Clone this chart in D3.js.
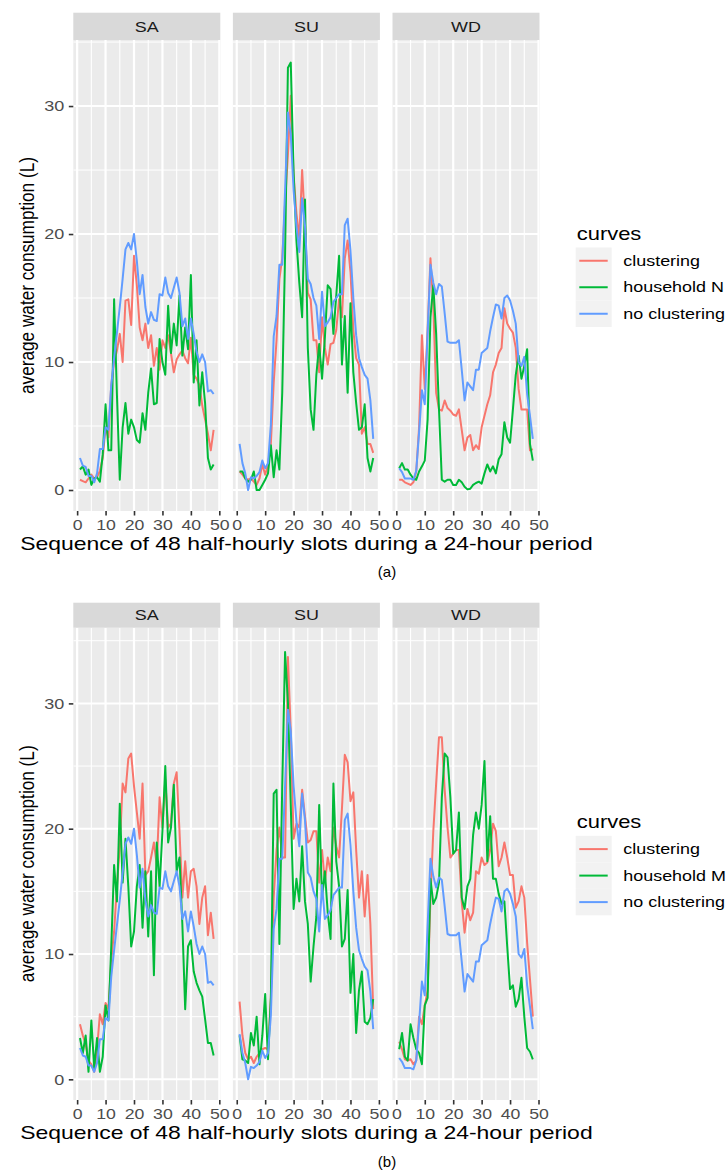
<!DOCTYPE html>
<html><head><meta charset="utf-8">
<script src="https://cdn.jsdelivr.net/npm/d3@7"></script>
<style>
body{margin:0;background:#fff}
svg{display:block}
text{font-family:"Liberation Sans",Arial,Helvetica,sans-serif}
</style>
</head><body>
<svg id="chart" width="727" height="1171"></svg>
<script>
// ---------------- data ----------------
const days = ["SA", "SU", "WD"];
const slots = d3.range(1, 49);
const curveKeys = ["clustering", "household", "no clustering"];
const householdLabels = ["household N", "household M"];
const figureLabels = ["(a)", "(b)"];
const xTicks = [0, 10, 20, 30, 40, 50];
const xMinor = [5, 15, 25, 35, 45];
const yTicks = [0, 10, 20, 30];
const yMinor = [5, 15, 25, 35];
const legendTitle = "curves";
const xTitle = "Sequence of 48 half-hourly slots during a 24-hour period";
const yTitle = "average water consumption (L)";

// no clustering (same curve in both figures)
const noClustering_SA = [2.5,1.9,1.8,1.1,1.1,0.6,1.3,3.2,3.2,4.9,4.7,8.2,10.3,12.3,14.3,16.5,18.8,19.3,18.8,20.0,17.9,15.3,16.8,14.3,13.0,13.9,13.3,13.2,15.3,15.2,16.6,15.4,15.0,15.8,16.6,15.4,12.8,13.4,11.8,13.4,12.2,10.8,10.0,10.6,10.0,7.7,7.8,7.5];
const noClustering_SU = [3.6,2.1,1.3,0.0,1.0,0.9,1.1,1.4,2.3,1.7,2.1,5.1,12.0,13.6,17.6,17.6,23.4,29.5,27.8,23.4,20.6,18.6,22.8,20.7,16.5,16.1,15.0,14.4,11.8,15.5,12.8,13.1,13.5,14.7,15.0,15.3,15.3,20.7,21.2,18.7,15.0,12.1,10.3,9.6,9.0,8.7,7.0,4.0];
const noClustering_WD = [1.7,1.4,0.9,0.9,0.9,0.8,1.5,4.5,7.8,6.7,12.3,17.6,16.2,15.3,16.1,15.9,13.8,11.6,11.5,11.5,11.5,11.7,9.4,7.0,8.4,8.1,7.8,9.4,9.4,10.7,10.9,11.1,12.4,13.5,14.5,14.4,13.4,15.0,15.2,14.8,14.0,13.0,10.0,9.7,10.4,7.5,5.8,4.0];

// figure (a)
const clusteringA_SA = [0.8,0.7,0.6,0.9,1.2,0.9,1.0,1.5,2.5,4.9,4.1,8.2,10.0,10.9,12.2,10.0,14.8,14.9,12.9,18.3,16.0,12.7,11.7,13.0,11.1,12.1,9.7,11.1,9.4,11.7,11.1,12.1,10.7,9.2,10.2,10.6,10.9,10.3,9.9,11.9,9.0,8.7,8.2,6.6,5.5,4.4,3.1,4.7];
const householdN_SA = [1.6,1.85,1.2,1.6,0.4,0.9,1.0,0.65,2.8,6.7,3.1,3.1,14.9,7.4,0.8,4.9,6.8,4.4,5.5,4.9,3.9,3.7,6.0,4.7,7.6,9.5,6.7,6.8,11.8,10.0,9.0,14.4,10.7,13.0,11.3,15.2,10.5,12.7,11.0,16.8,8.4,11.7,6.6,9.2,6.8,2.5,1.6,2.0];
const clusteringA_SU = [1.45,1.2,0.9,0.8,0.9,0.65,0.4,0.9,2.0,1.2,2.0,3.6,8.4,11.7,16.5,18.1,22.4,26.2,30.8,24.6,21.6,19.7,25.0,20.8,15.4,14.9,11.7,11.7,9.2,13.5,11.1,9.8,11.4,11.5,12.5,14.9,13.5,18.1,19.5,17.0,12.5,10.3,9.8,4.4,4.9,3.6,3.6,2.9];
const householdN_SU = [1.45,1.45,0.9,0.65,0.8,1.45,0.0,0.0,0.4,0.8,1.3,3.5,1.0,3.1,1.6,7.6,18.4,33.0,33.4,24.8,19.5,16.2,13.5,22.7,11.1,6.3,4.7,9.0,11.4,8.7,11.9,16.0,15.7,12.2,15.2,18.3,9.8,13.6,7.6,14.6,9.2,6.8,4.7,4.9,6.7,2.5,1.45,2.5];
const clusteringA_WD = [0.8,0.8,0.6,0.5,0.4,0.6,1.45,4.9,12.1,7.9,12.5,18.1,14.4,7.6,6.3,6.2,7.0,6.4,6.2,5.9,5.8,6.3,4.7,3.1,4.1,4.3,3.1,3.5,3.2,4.9,5.8,6.7,7.4,9.2,9.8,10.7,11.1,14.2,13.0,12.6,12.3,11.1,7.9,6.3,6.3,6.3,3.1,3.2];
const householdN_WD = [1.7,2.1,1.6,1.6,1.2,0.9,0.8,1.45,1.85,2.3,5.5,13.5,16.0,12.2,6.3,0.8,0.65,0.8,0.8,0.4,0.4,0.8,0.6,0.25,0.05,0.1,0.4,0.55,0.65,0.5,1.3,2.0,1.45,1.85,1.3,2.4,2.8,5.3,4.1,3.7,6.3,9.0,10.5,8.7,9.7,11.0,3.6,2.3];

// figure (b)
const clusteringB_SA = [4.4,3.5,2.8,1.5,1.2,0.6,2.4,5.2,4.4,6.1,5.6,9.5,11.8,15.4,18.6,23.6,22.9,25.6,26.0,23.4,21.3,19.2,23.6,16.3,16.6,17.7,18.9,17.1,22.5,20.1,23.9,20.1,20.4,23.6,24.5,19.8,14.5,17.4,14.5,16.6,16.8,15.4,12.4,14.5,15.4,11.5,13.3,11.2];
const householdM_SA = [3.3,2.1,3.5,0.6,4.7,0.9,3.3,0.6,1.8,5.9,4.7,10.6,17.1,14.2,22.0,15.7,19.2,15.4,10.6,11.8,15.4,17.1,12.1,16.6,11.4,16.6,8.3,18.9,15.4,19.8,25.0,18.9,20.1,23.5,16.6,17.7,12.4,5.6,10.6,11.1,8.6,7.7,7.1,6.6,4.8,2.9,2.9,1.9];
const clusteringB_SU = [6.2,3.5,2.1,1.6,1.8,1.3,1.8,2.1,2.4,2.5,2.4,6.5,14.5,18.3,20.1,17.7,17.7,33.7,27.8,19.2,20.4,20.1,23.1,21.0,18.9,19.1,19.8,19.8,15.7,18.3,15.7,17.7,16.6,20.1,18.6,17.7,21.6,25.9,25.3,22.2,22.9,18.3,14.5,16.6,13.0,16.3,12.4,5.6];
const householdM_SU = [3.5,1.6,1.5,1.3,3.7,2.7,5.0,1.2,3.5,6.8,1.6,6.5,22.8,23.1,10.8,23.4,34.1,30.1,21.9,13.6,16.0,14.2,18.6,14.2,12.4,7.8,10.6,13.0,21.9,14.5,16.6,13.3,11.2,23.6,17.4,15.4,10.6,11.2,15.1,6.9,10.0,3.7,7.1,8.6,4.6,4.4,4.9,6.4];
const clusteringB_WD = [3.0,2.4,1.6,1.5,1.6,1.2,1.5,5.0,4.4,5.9,7.1,14.5,19.8,23.6,27.3,27.3,23.1,20.1,17.7,18.0,18.3,18.3,14.2,11.7,13.6,12.7,13.3,16.6,16.4,17.7,17.1,17.3,18.3,20.4,19.8,17.0,17.7,18.9,17.7,16.3,16.3,13.7,14.2,15.4,14.5,10.9,8.0,5.0];
const householdM_WD = [2.4,3.7,1.8,1.5,4.4,3.3,2.4,2.1,1.2,5.9,6.5,16.0,14.0,14.5,15.7,22.5,26.0,25.7,22.5,18.0,18.3,21.3,14.5,13.6,15.4,16.0,19.5,21.3,20.0,21.9,25.4,17.4,21.0,16.0,16.0,14.8,14.0,14.2,10.6,7.2,7.5,5.8,6.4,8.1,5.0,2.5,2.2,1.6];

const figData = [
  { SA: [clusteringA_SA, householdN_SA, noClustering_SA],
    SU: [clusteringA_SU, householdN_SU, noClustering_SU],
    WD: [clusteringA_WD, householdN_WD, noClustering_WD] },
  { SA: [clusteringB_SA, householdM_SA, noClustering_SA],
    SU: [clusteringB_SU, householdM_SU, noClustering_SU],
    WD: [clusteringB_WD, householdM_WD, noClustering_WD] }
];

// ---------------- style / layout ----------------
const colors = ["#F8766D", "#00BA38", "#619CFF"];
const SX = 1.22;                    // horizontal stretch of the original picture
const panelLeft = [73.3, 232.9, 392.5];
const panelW = 147;
const layouts = [
  { stripTop: 12.7,  top: 40,    bottom: 511,  yDom: [-1.64, 35.16], labelY: 572 },
  { stripTop: 602.7, top: 627.7, bottom: 1100, yDom: [-1.65, 36.04], labelY: 1162 }
];
const xDom = [1 - 0.05 * 47, 48 + 0.05 * 47];

const svg = d3.select("#chart");
svg.append("rect").attr("width", 727).attr("height", 1171).attr("fill", "#fff");
const defs = svg.append("defs");

layouts.forEach((L, fi) => {
  const y = d3.scaleLinear().domain(L.yDom).range([L.bottom, L.top]);
  const fig = svg.append("g");

  days.forEach((day, di) => {
    const px = panelLeft[di];
    const x = d3.scaleLinear().domain(xDom).range([px, px + panelW]);
    const clipId = `clip-${fi}-${di}`;
    defs.append("clipPath").attr("id", clipId)
      .append("rect").attr("x", px).attr("y", L.top).attr("width", panelW).attr("height", L.bottom - L.top);

    // panel background
    fig.append("rect").attr("x", px).attr("y", L.top).attr("width", panelW)
      .attr("height", L.bottom - L.top).attr("fill", "#EBEBEB");
    // minor grid
    const grid = fig.append("g").attr("clip-path", `url(#${clipId})`);
    yMinor.forEach(v => grid.append("line").attr("x1", px).attr("x2", px + panelW)
      .attr("y1", y(v)).attr("y2", y(v)).attr("stroke", "#fff").attr("stroke-width", 1));
    xMinor.forEach(v => grid.append("line").attr("y1", L.top).attr("y2", L.bottom)
      .attr("x1", x(v)).attr("x2", x(v)).attr("stroke", "#fff").attr("stroke-width", 1.1));
    // major grid
    yTicks.forEach(v => grid.append("line").attr("x1", px).attr("x2", px + panelW)
      .attr("y1", y(v)).attr("y2", y(v)).attr("stroke", "#fff").attr("stroke-width", 2));
    xTicks.forEach(v => grid.append("line").attr("y1", L.top).attr("y2", L.bottom)
      .attr("x1", x(v)).attr("x2", x(v)).attr("stroke", "#fff").attr("stroke-width", 2.2));

    // lines
    const line = d3.line().x((d, i) => x(slots[i])).y(d => y(d));
    const lg = fig.append("g").attr("clip-path", `url(#${clipId})`);
    figData[fi][day].forEach((arr, si) => {
      lg.append("path").datum(arr).attr("d", line).attr("fill", "none")
        .attr("stroke", colors[si]).attr("stroke-width", 2).attr("stroke-linejoin", "round");
    });

    // strip
    fig.append("rect").attr("x", px).attr("y", L.stripTop).attr("width", panelW)
      .attr("height", L.top - L.stripTop).attr("fill", "#D9D9D9");
    fig.append("text").attr("transform", `translate(${px + panelW / 2},${(L.stripTop + L.top) / 2}) scale(${SX},1)`)
      .attr("text-anchor", "middle").attr("dy", "0.36em").attr("font-size", 14.7)
      .attr("fill", "#1A1A1A").text(day);

    // x axis
    const xa = fig.append("g").attr("transform", `translate(0,${L.bottom})`)
      .call(d3.axisBottom(x).tickValues(xTicks).tickSize(4.5).tickPadding(4.5).tickFormat(d3.format("d")));
    xa.select(".domain").remove();
    xa.selectAll(".tick line").attr("stroke", "#333").attr("stroke-width", 1.6);
    xa.selectAll(".tick text").attr("font-size", 14.5).attr("fill", "#4D4D4D")
      .attr("font-family", "Liberation Sans, Arial, sans-serif").attr("transform", `scale(${SX},1)`);

    // y axis on first panel
    if (di === 0) {
      const ya = fig.append("g").attr("transform", `translate(${px},0)`)
        .call(d3.axisLeft(y).tickValues(yTicks).tickSize(4.5).tickPadding(4.5));
      ya.select(".domain").remove();
      ya.selectAll(".tick line").attr("stroke", "#333").attr("stroke-width", 1.6);
      ya.selectAll(".tick text").attr("font-size", 14.8).attr("fill", "#4D4D4D")
        .attr("font-family", "Liberation Sans, Arial, sans-serif")
        .attr("x", -9 / SX).attr("transform", `scale(${SX},1)`);
    }
  });

  const mid = (L.top + L.bottom) / 2;
  const cx = (panelLeft[0] + panelLeft[2] + panelW) / 2;

  // axis titles
  fig.append("text").attr("transform", `translate(${cx},${L.bottom + 39}) scale(${SX},1)`)
    .attr("text-anchor", "middle").attr("font-size", 18.8).attr("fill", "#000").text(xTitle);
  fig.append("text").attr("transform", `translate(26.5,${mid}) rotate(-90) scale(1,${SX})`)
    .attr("text-anchor", "middle").attr("dy", "0.35em").attr("font-size", 17.2).attr("fill", "#000").text(yTitle);

  // legend
  const lgx = 575.7, keyW = 36, keyH = 26.5, boxTop = mid - 28;
  fig.append("text").attr("transform", `translate(576.7,${mid - 42}) scale(${SX},1)`)
    .attr("dy", "0.35em").attr("font-size", 18).attr("fill", "#000").text(legendTitle);
  const names = [curveKeys[0], householdLabels[fi], curveKeys[2]];
  names.forEach((n, i) => {
    const cy = boxTop + keyH / 2 + i * keyH;
    fig.append("rect").attr("x", lgx).attr("y", boxTop + i * keyH).attr("width", keyW)
      .attr("height", keyH).attr("fill", "#F2F2F2");
    fig.append("line").attr("x1", lgx + 3.6).attr("x2", lgx + keyW - 4).attr("y1", cy).attr("y2", cy)
      .attr("stroke", colors[i]).attr("stroke-width", 2);
    fig.append("text").attr("transform", `translate(623.3,${cy}) scale(${SX},1)`)
      .attr("dy", "0.35em").attr("font-size", 14.7).attr("fill", "#000").text(n);
  });

  // figure label
  fig.append("text").attr("x", 387).attr("y", L.labelY).attr("dy", "0.35em")
    .attr("text-anchor", "middle").attr("font-size", 15)
    .attr("font-family", "Liberation Serif, Times New Roman, serif").attr("fill", "#000")
    .text(figureLabels[fi]);
});
</script>
</body></html>
